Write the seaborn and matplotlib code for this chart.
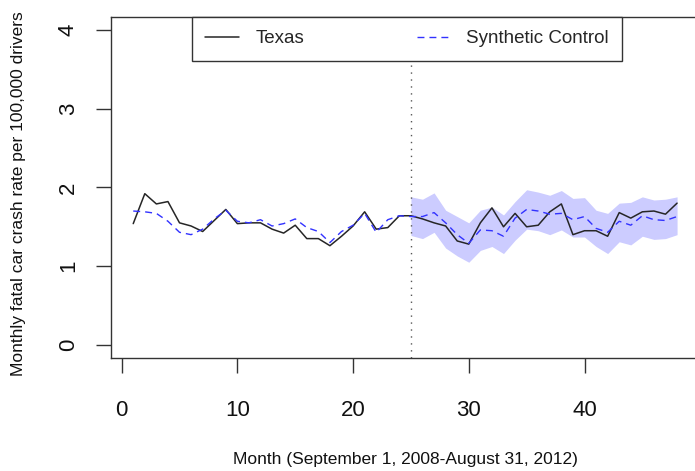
import matplotlib
matplotlib.use("Agg")
import matplotlib.pyplot as plt
from matplotlib.lines import Line2D
import seaborn as sns
import pandas as pd

# Monthly fatal crash rates per 100,000 drivers
months = list(range(1, 49))
texas = [1.54, 1.92, 1.79, 1.82, 1.55, 1.51, 1.44, 1.58, 1.72, 1.54,
         1.55, 1.55, 1.47, 1.42, 1.52, 1.35, 1.35, 1.26, 1.38, 1.51,
         1.69, 1.47, 1.49, 1.64, 1.64, 1.60, 1.55, 1.51, 1.32, 1.28,
         1.55, 1.74, 1.50, 1.67, 1.50, 1.52, 1.69, 1.79, 1.40, 1.45,
         1.45, 1.38, 1.68, 1.61, 1.69, 1.70, 1.66, 1.80]
synthetic = [1.70, 1.69, 1.67, 1.57, 1.43, 1.40, 1.47, 1.60, 1.71, 1.57,
             1.55, 1.59, 1.51, 1.54, 1.60, 1.49, 1.44, 1.30, 1.44, 1.52,
             1.67, 1.43, 1.59, 1.64, 1.63, 1.63, 1.68, 1.55, 1.40, 1.29,
             1.46, 1.45, 1.38, 1.61, 1.72, 1.70, 1.66, 1.67, 1.59, 1.63,
             1.48, 1.43, 1.57, 1.52, 1.64, 1.59, 1.58, 1.63]

# Post-treatment interval around the synthetic control (months 25-48)
band_months = list(range(25, 49))
band_upper = [1.88, 1.85, 1.93, 1.71, 1.63, 1.55, 1.71, 1.75, 1.65, 1.82,
              1.97, 1.94, 1.90, 1.96, 1.86, 1.87, 1.71, 1.67, 1.80, 1.81,
              1.88, 1.84, 1.85, 1.88]
band_lower = [1.39, 1.35, 1.43, 1.23, 1.13, 1.05, 1.20, 1.25, 1.16, 1.33,
              1.47, 1.45, 1.40, 1.46, 1.37, 1.37, 1.25, 1.16, 1.31, 1.27,
              1.38, 1.34, 1.35, 1.40]

treatment_month = 25
x_ticks = [0, 10, 20, 30, 40]
y_ticks = [0, 1, 2, 3, 4]

sns.set_style("white")
plt.rcParams["font.family"] = ["Liberation Sans", "DejaVu Sans"]

df = pd.DataFrame({"month": months, "texas": texas, "synthetic": synthetic})

fig = plt.figure(figsize=(6.95, 4.71), dpi=100)
ax = fig.add_axes([0.1604, 0.2408, 0.8451, 0.7227])

blue = "#3232ff"
dark = "#262626"

ax.fill_between(band_months, band_lower, band_upper, color="#ccccff",
                linewidth=0, zorder=1)
ax.axvline(treatment_month, color="#555555", lw=1.0, dashes=(1, 4), zorder=2)

sns.lineplot(data=df, x="month", y="texas", ax=ax, color=dark, lw=1.1,
             legend=False, zorder=3)
sns.lineplot(data=df, x="month", y="synthetic", ax=ax, color=blue, lw=1.0,
             legend=False, zorder=3)
ax.lines[-1].set_dashes((5, 3.6))

ax.set_xlim(-0.88, 49.88)
ax.set_ylim(-0.16, 4.16)
ax.set_xticks(x_ticks)
ax.set_yticks(y_ticks)
ax.set_xlabel("")
ax.set_ylabel("")

for s in ax.spines.values():
    s.set_visible(True)
    s.set_color("#333333")
    s.set_linewidth(1.0)

ax.tick_params(axis="both", direction="out", length=10.5, width=1.0,
               color="#333333", labelsize=16, labelcolor="#111111",
               bottom=True, left=True, top=False, right=False)
ax.tick_params(axis="x", pad=20)
ax.tick_params(axis="y", pad=13)
for lab in ax.get_yticklabels():
    lab.set_rotation(90)
    lab.set_va("center")

handles = [Line2D([], [], color=dark, lw=1.1),
           Line2D([], [], color=blue, lw=1.0, dashes=(5, 3.6))]
leg = ax.legend(handles, ["Texas", "Synthetic Control"], ncol=2,
                loc="upper left", bbox_to_anchor=(0.1376, 1.0),
                borderaxespad=0, fontsize=13.5, handlelength=1.81,
                handletextpad=0.85, columnspacing=6.0, borderpad=0.7,
                frameon=True, fancybox=False, framealpha=1,
                edgecolor="#333333")
leg.get_frame().set_linewidth(1.0)

fig.text(0.026, 0.589, "Monthly fatal car crash rate per 100,000 drivers",
         rotation=90, ha="center", va="center", fontsize=12.5, color="#111111")
fig.text(0.583, 0.0234, "Month (September 1, 2008-August 31, 2012)",
         ha="center", va="center", fontsize=12.5, color="#111111")

fig.savefig("out.png", dpi=100)
